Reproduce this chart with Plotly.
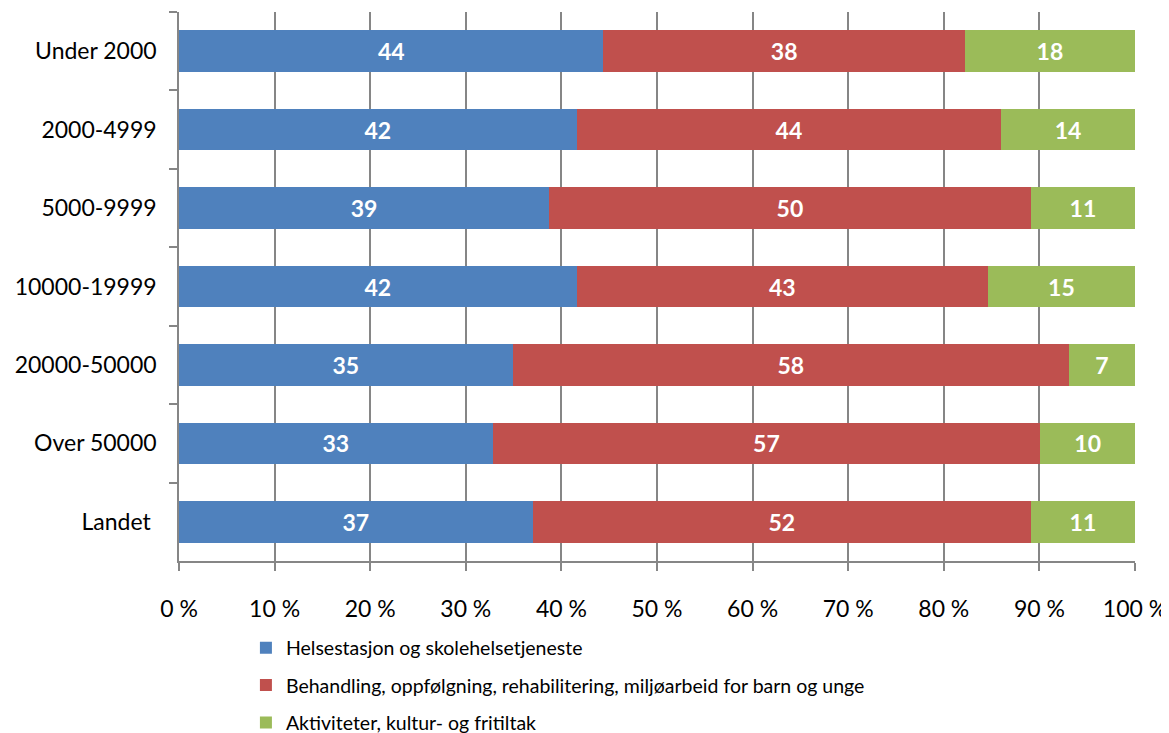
import plotly.graph_objects as go

categories = ["Under 2000", "2000-4999", "5000-9999", "10000-19999",
              "20000-50000", "Over 50000", "Landet\u00a0"]

helse = [44.4, 41.6, 38.7, 41.6, 34.9, 32.8, 37.0]
behandling = [37.8, 44.4, 50.4, 43.0, 58.2, 57.3, 52.1]
aktiviteter = [17.8, 14.0, 10.9, 15.4, 6.9, 9.9, 10.9]

series = [
    ("Helsestasjon og skolehelsetjeneste", helse, "#4F81BD"),
    ("Behandling, oppfølgning, rehabilitering, miljøarbeid for barn og unge", behandling, "#C0504D"),
    ("Aktiviteter, kultur- og fritiltak", aktiviteter, "#9BBB59"),
]

x_ticks = list(range(0, 101, 10))
x_labels = [f"{t} %" for t in x_ticks]

FONT = "Lato, Open Sans, sans-serif"

fig = go.Figure()
for i, (name, vals, color) in enumerate(series):
    fig.add_trace(
        go.Bar(
            name=name,
            y=categories,
            x=vals,
            orientation="h",
            marker_color=color,
            marker_line_width=0,
            text=vals,
            texttemplate="%{x:.0f}",
            textposition="inside",
            insidetextanchor="middle",
            textfont=dict(color="white", size=23, family=FONT, weight="bold"),
            legendgroup=f"g{i}",
            hoverinfo="skip",
        )
    )

# page has an 8px body margin, so the figure is drawn slightly smaller
fig.update_layout(
    width=1161,
    height=725,
    barmode="stack",
    bargap=0.47,
    plot_bgcolor="white",
    paper_bgcolor="white",
    margin=dict(l=171, r=34, t=4, b=172, autoexpand=False),
    font=dict(family=FONT, size=23, color="black"),
    uniformtext=dict(minsize=22, mode="show"),
    legend=dict(
        orientation="v",
        x=0.07,
        xanchor="left",
        y=-0.123,
        yanchor="top",
        font=dict(size=19.5, family=FONT),
        tracegroupgap=9,
        itemwidth=30,
        traceorder="grouped",
    ),
)

fig.update_xaxes(
    range=[0, 100],
    tickvals=x_ticks,
    ticktext=x_labels,
    showgrid=True,
    gridcolor="#868686",
    gridwidth=1.5,
    showline=True,
    linecolor="#868686",
    linewidth=1.5,
    ticks="outside",
    ticklen=8,
    tickcolor="#868686",
    tickwidth=1.5,
    ticklabelstandoff=19,
    zeroline=False,
    automargin=False,
    fixedrange=True,
)

fig.update_yaxes(
    autorange="reversed",
    showline=True,
    linecolor="#868686",
    linewidth=1.5,
    ticks="outside",
    ticklen=8,
    tickcolor="#868686",
    tickwidth=1.5,
    tickson="boundaries",
    ticklabelstandoff=16,
    showgrid=False,
    automargin=False,
    fixedrange=True,
)

fig.write_html("out.html")
